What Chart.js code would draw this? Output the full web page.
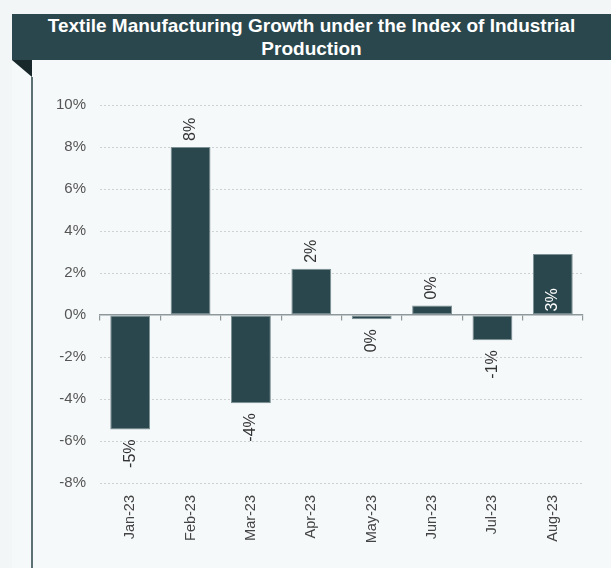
<!DOCTYPE html>
<html>
<head>
<meta charset="utf-8">
<script src="https://cdn.jsdelivr.net/npm/chart.js@4/dist/chart.umd.min.js"></script>
<style>
  html, body { margin: 0; padding: 0; background: #f2f6f7; }
  #wrap { position: relative; width: 611px; height: 568px; overflow: hidden; }
  #panel { position: absolute; left: 12px; top: 60px; width: 599px; height: 508px; background: #f5f9fa; }
  #banner {
    position: absolute; left: 12px; top: 14px; width: 599px; height: 46px;
    background: #2a474d; color: #fff; text-align: center;
    font: bold 19px "Liberation Sans", Arial, sans-serif; line-height: 23px;
    display: flex; align-items: center; justify-content: center;
  }
  #fold { position: absolute; left: 12px; top: 60px; width: 0; height: 0;
    border-top: 17px solid #18272a; border-left: 20px solid transparent; }
  #rule { position: absolute; left: 31px; top: 77px; width: 2px; height: 491px; background: #5d7073; }
  canvas { position: absolute; left: 0; top: 0; }
</style>
</head>
<body>
<div id="wrap">
  <div id="panel"></div>
  <div id="banner">Textile Manufacturing Growth under the Index of Industrial<br>Production</div>
  <div id="fold"></div>
  <div id="rule"></div>
  <canvas id="c" width="611" height="568"></canvas>
</div>
<script>
// Monthly growth of textile manufacturing (IIP), percent
const months = ['Jan-23', 'Feb-23', 'Mar-23', 'Apr-23', 'May-23', 'Jun-23', 'Jul-23', 'Aug-23'];
const growth = [-5.45, 8.0, -4.2, 2.2, -0.2, 0.45, -1.2, 2.9];
const yTicks = [10, 8, 6, 4, 2, 0, -2, -4, -6, -8];

const pct = v => Math.round(v).toFixed(0).replace('-0', '0') + '%';

// Rotated value labels: outside the bar end, or inside at the base for selected bars
const valueLabels = {
  id: 'valueLabels',
  afterDatasetsDraw(chart, args, opts) {
    const ctx = chart.ctx;
    const meta = chart.getDatasetMeta(0);
    const data = chart.data.datasets[0].data;
    ctx.save();
    ctx.font = '16px "Liberation Sans", Arial, sans-serif';
    ctx.textBaseline = 'middle';
    meta.data.forEach((bar, i) => {
      const v = data[i];
      const text = pct(v);
      let y, align, color = '#333333';
      if (opts.insideBase.includes(i)) {
        y = bar.base - 3; align = 'left'; color = '#ffffff';
      } else if (v >= 0) {
        y = bar.y - 6; align = 'left';
      } else {
        y = bar.y + 10; align = 'right';
      }
      ctx.save();
      ctx.translate(bar.x, y);
      ctx.rotate(-Math.PI / 2);
      ctx.textAlign = align;
      ctx.fillStyle = color;
      ctx.fillText(text, 0, 0);
      ctx.restore();
    });
    ctx.restore();
  }
};

new Chart(document.getElementById('c'), {
  type: 'bar',
  data: {
    labels: months,
    datasets: [{
      data: growth,
      backgroundColor: '#2a474d',
      borderColor: '#7d9094',
      borderWidth: 1,
      borderSkipped: false,
      barPercentage: 0.66,
      categoryPercentage: 1.0,
      xAxisID: 'x'
    }]
  },
  options: {
    responsive: false,
    animation: false,
    layout: { padding: { left: 0, right: 28, top: 105, bottom: 0 } },
    plugins: {
      legend: { display: false },
      tooltip: { enabled: false },
      valueLabels: { insideBase: [7] }
    },
    scales: {
      x: {
        type: 'category',
        position: { y: 0 },
        offset: true,
        grid: { display: true, drawOnChartArea: false, drawTicks: true, tickLength: 5, offset: true, color: '#8f999b', lineWidth: 1.2 },
        border: { display: true, color: '#8f999b', width: 1.5 },
        ticks: { display: false }
      },
      x2: {
        type: 'category',
        labels: months,
        position: 'bottom',
        offset: true,
        grid: { display: false },
        border: { display: false },
        ticks: {
          maxRotation: 90, minRotation: 90, padding: 4,
          color: '#444',
          font: { family: '"Liberation Sans", Arial, sans-serif', size: 14.5 }
        },
        afterFit(s) { s.height = 85; }
      },
      y: {
        min: -8, max: 10,
        afterBuildTicks(s) { s.ticks = yTicks.map(v => ({ value: v })); },
        afterFit(s) { s.width = 100; },
        grid: {
          drawTicks: false,
          color: ctx => ctx.tick && ctx.tick.value === 0 ? 'rgba(0,0,0,0)' : '#cdd2d4',
          lineWidth: 1
        },
        border: { display: false, dash: [2, 2] },
        ticks: {
          padding: 14,
          color: '#555',
          font: { family: '"Liberation Sans", Arial, sans-serif', size: 15 },
          callback: v => v + '%'
        }
      }
    }
  },
  plugins: [valueLabels]
});
</script>
</body>
</html>
